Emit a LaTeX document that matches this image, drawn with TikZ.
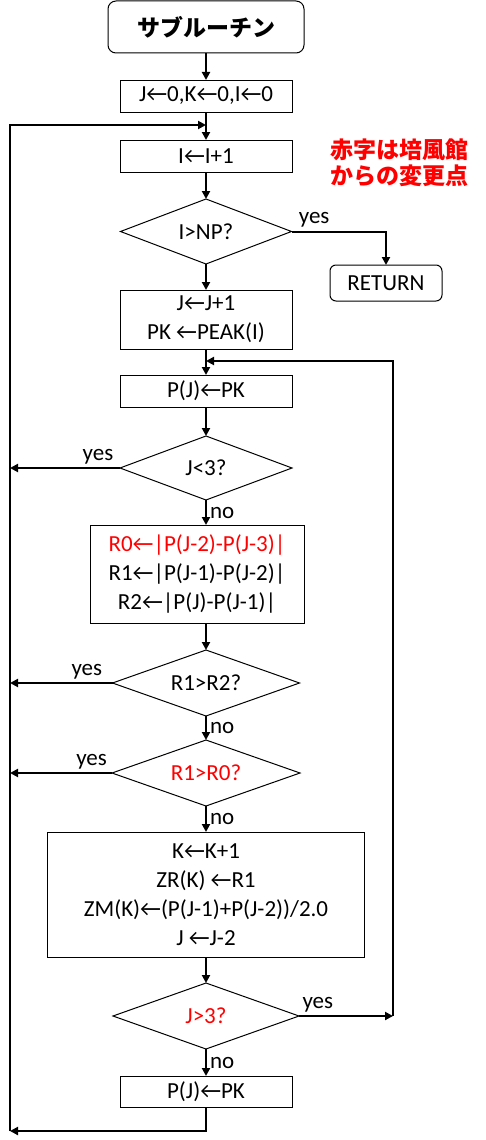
\documentclass[tikz,border=0pt]{standalone}
\usepackage{fontspec}
\setmainfont{Carlito}
\newfontfamily\jpfont{Noto Sans CJK JP}
\newfontfamily\arrfont{Carlito}
\usetikzlibrary{arrows.meta, positioning, shapes.geometric}
\newcommand{\la}{{\arrfont ←}}

\begin{document}
\begin{tikzpicture}[x=1pt, y=-1pt,
    every node/.style={font=\fontsize{23}{29}\selectfont},
    procbox/.style={rectangle, draw=black, line width=1pt, minimum width=172pt, minimum height=32pt, align=center, inner sep=0pt, outer sep=0pt},
    termbox/.style={procbox, rounded corners=8pt},
    decision/.style={diamond, draw=black, line width=1pt, minimum width=172pt, minimum height=65pt, inner sep=0pt, outer sep=0pt, aspect=2.6},
    arrow/.style={-{Triangle[length=8pt,width=8pt]}, line width=2pt},
    lbl/.style={inner sep=3pt}
]
\useasboundingbox (0,0) rectangle (486,1140);

% ==== Main flow ====
\node[termbox, minimum width=196pt, minimum height=52pt, font=\jpfont\bfseries\fontsize{23}{29}\selectfont] (start) at (206,27) {サブルーチン};
\node[procbox, below=27pt of start] (init) {J\la0,K\la0,I\la0};
\node[procbox, below=28pt of init] (incr) {I\la I+1};
\node[decision, minimum width=171pt, below=27pt of incr] (np) {I>NP?};
\node[termbox, minimum width=112pt, minimum height=36pt, rounded corners=6pt] (ret) at (386,283) {RETURN};
\node[procbox, minimum height=59pt, below=26pt of np] (jinc) {J\la J+1\\PK \la PEAK(I)};
\node[procbox, below=26pt of jinc] (setp) {P(J)\la PK};
\node[decision, minimum height=64pt, below=29pt of setp] (jlt) {J<3?};
\node[procbox, minimum width=214pt, minimum height=98pt, below=25pt of jlt, xshift=-9pt] (diffs) {\textcolor{red}{R0\la|P(J-2)-P(J-3)|}\\R1\la|P(J-1)-P(J-2)|\\R2\la|P(J)-P(J-1)|};
\node[decision, minimum width=187pt, minimum height=66pt, below=27pt of diffs, xshift=9pt] (r12) {R1>R2?};
\node[decision, minimum width=188pt, minimum height=66pt, below=24pt of r12, text=red] (r10) {R1>R0?};
\node[procbox, minimum width=317pt, minimum height=125pt, below=26pt of r10] (update) {K\la K+1\\ZR(K) \la R1\\ZM(K)\la(P(J-1)+P(J-2))/2.0\\J \la J-2};
\node[decision, minimum width=186pt, minimum height=66pt, below=26pt of update, text=red] (jgt) {J>3?};
\node[procbox, minimum height=31pt, below=27pt of jgt] (setp2) {P(J)\la PK};

% ==== Note ====
\node[text=red, align=center, font=\jpfont\bfseries\fontsize{23}{26}\selectfont] (note) at (399,163) {赤字は培風館\\からの変更点};

% ==== Loop corners ====
\coordinate (lx) at (10,1131);
\coordinate (top) at (206,125);
\coordinate (rx) at (393,0);
\coordinate (mid) at (206,361);

% ==== Arrows ====
\draw[arrow] (start) -- (init);
\draw[arrow] (init) -- (incr);
\draw[arrow] (incr) -- (np);
\draw[arrow] (np) -- (jinc);
\draw[arrow] (np.east) -| node[lbl, above, pos=0.12] {yes} (ret.north);
\draw[arrow] (jinc) -- (setp);
\draw[arrow] (setp) -- (jlt);
\draw[arrow] (jlt.south) -- node[lbl, right] {no} (jlt.south |- diffs.north);
\draw[arrow] (jlt.west) -- node[lbl, above, pos=0.2] {yes} (jlt.west -| lx);
\draw[arrow] (diffs.south -| r12.north) -- (r12);
\draw[arrow] (r12.west) -- node[lbl, above, pos=0.25] {yes} (r12.west -| lx);
\draw[arrow] (r12) -- node[lbl, right] {no} (r10);
\draw[arrow] (r10.west) -- node[lbl, above, pos=0.2] {yes} (r10.west -| lx);
\draw[arrow] (r10) -- node[lbl, right] {no} (update);
\draw[arrow] (update) -- (jgt);
\draw[arrow] (jgt) -- node[lbl, right] {no} (setp2);
\draw[arrow] (jgt.east) -- node[lbl, above, pos=0.2] {yes} (jgt.east -| rx);
\draw[arrow] (jgt.east -| rx) |- (mid);
\draw[arrow] (setp2) |- (lx);
\draw[arrow] (lx) |- (top);

\end{tikzpicture}
\end{document}
